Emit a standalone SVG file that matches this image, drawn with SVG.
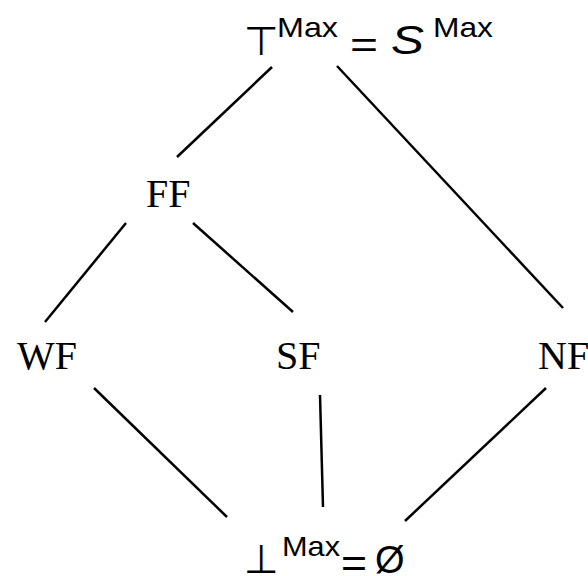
<svg xmlns="http://www.w3.org/2000/svg" width="588" height="576" viewBox="0 0 588 576">
<style>
.lbl{font-family:"Liberation Serif","Times New Roman",serif;font-size:40px;fill:#000}
.sans{font-family:"Liberation Sans",Arial,"DejaVu Sans",sans-serif;fill:#000}
.sym{font-family:"DejaVu Sans",sans-serif;fill:#000}
.edge{stroke:#000;stroke-width:2.5;stroke-linecap:butt;fill:none}
</style>
<rect width="588" height="576" fill="#fff"/>
<g id="connectors">
<line class="edge" x1="272" y1="67" x2="177" y2="157"/>
<line class="edge" x1="337" y1="66" x2="563" y2="308"/>
<line class="edge" x1="126" y1="223" x2="45" y2="322"/>
<line class="edge" x1="193" y1="223" x2="293" y2="312"/>
<line class="edge" x1="94" y1="388" x2="227" y2="517"/>
<line class="edge" x1="320" y1="395" x2="323" y2="507"/>
<line class="edge" x1="546" y1="388" x2="405" y2="521"/>
</g>
<g id="top">
<text class="sym" x="244" y="55" font-size="40">⊤</text>
<text class="sans" x="277" y="37" font-size="28" textLength="61" lengthAdjust="spacingAndGlyphs">Max</text>
<text class="sans" x="350" y="57" font-size="36" textLength="28" lengthAdjust="spacingAndGlyphs">=</text>
<text class="sans" x="391" y="54" font-size="41" font-style="italic" textLength="33" lengthAdjust="spacingAndGlyphs">S</text>
<text class="sans" x="433" y="37" font-size="28" textLength="60" lengthAdjust="spacingAndGlyphs">Max</text>
</g>
<g id="FF"><text class="lbl" x="146" y="207">FF</text></g>
<g id="WF"><text class="lbl" x="17" y="369">WF</text></g>
<g id="SF"><text class="lbl" x="276" y="369">SF</text></g>
<g id="NF"><text class="lbl" x="538" y="369">NF</text></g>
<g id="bottom">
<text class="sym" x="244" y="573" font-size="40">⊥</text>
<text class="sans" x="282" y="556" font-size="28" textLength="58" lengthAdjust="spacingAndGlyphs">Max</text>
<text class="sans" x="341" y="577" font-size="40" textLength="26" lengthAdjust="spacingAndGlyphs">=</text>
<text class="sans" x="375" y="573" font-size="38">Ø</text>
</g>
</svg>
